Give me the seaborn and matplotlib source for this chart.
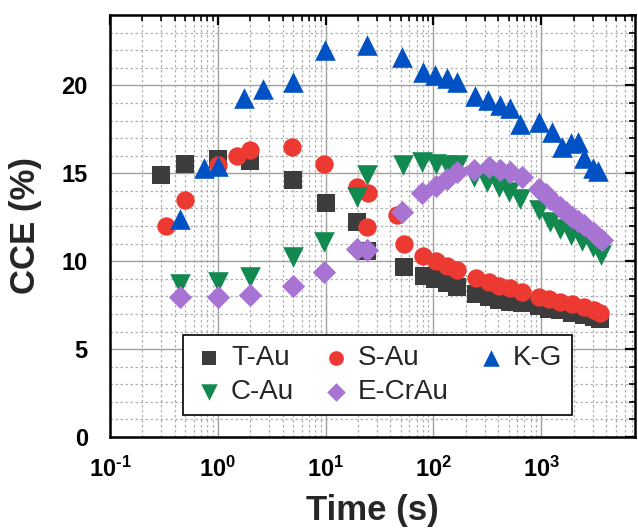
import numpy as np
import pandas as pd
import matplotlib
matplotlib.use("Agg")
import matplotlib.pyplot as plt
import matplotlib.ticker as mticker
import seaborn as sns

# Data
t_au_t = [0.3, 0.5, 1.0, 2.0, 5.0, 10, 19.5, 24, 53, 82, 104, 134, 167,
          250, 327, 410, 510, 667, 950, 1180, 1500, 1940, 2500, 3070, 3500]
t_au = [14.9, 15.55, 15.8, 15.7, 14.6, 13.3, 12.2, 10.6, 9.64, 9.15, 8.96, 8.73, 8.54,
        8.12, 7.95, 7.8, 7.68, 7.6, 7.45, 7.3, 7.2, 7.05, 6.95, 6.8, 6.7]

s_au_t = [0.33, 0.5, 1.0, 1.5, 2.0, 4.9, 9.7, 19.4, 24.5, 24, 46, 53.5, 80, 105, 134, 167,
          250, 327, 410, 510, 667, 950, 1180, 1500, 1940, 2500, 3070, 3500]
s_au = [12.0, 13.5, 15.45, 16.0, 16.3, 16.5, 15.55, 14.2, 13.9, 11.95, 12.6, 10.95, 10.3, 10.0, 9.73, 9.49,
        9.05, 8.83, 8.6, 8.45, 8.26, 7.97, 7.82, 7.69, 7.56, 7.4, 7.2, 7.06]

c_au_t = [0.45, 1.0, 2.0, 4.95, 9.7, 19.4, 24, 52, 79, 105, 134, 170,
          240, 315, 405, 503, 640, 950, 1200, 1500, 1900, 2400, 3000, 3600]
c_au = [8.7, 8.8, 9.1, 10.25, 11.1, 13.65, 14.9, 15.45, 15.65, 15.55, 15.45, 15.45,
        14.8, 14.5, 14.2, 13.95, 13.55, 12.9, 12.2, 11.85, 11.5, 11.15, 10.8, 10.35]

e_cr_t = [0.45, 1.0, 2.0, 4.95, 9.7, 19.4, 24, 51.5, 79, 105, 134, 167,
          240, 327, 417, 518, 667, 950, 1100, 1220, 1500, 1700, 1940, 2200, 2500, 3070, 3400, 3700]
e_cr = [7.94, 7.97, 8.07, 8.58, 9.4, 10.7, 10.65, 12.8, 13.9, 14.3, 14.7, 15.07,
        15.2, 15.36, 15.2, 15.07, 14.8, 14.1, 13.8, 13.55, 13.1, 12.8, 12.5, 12.3, 12.05, 11.6, 11.4, 11.2]

kg_t = [0.45, 0.75, 1.0, 1.75, 2.6, 5.0, 9.8, 24, 51.6, 80.8, 104, 135, 167,
        245, 323, 417, 518, 640, 960, 1260, 1550, 1900, 2200, 2500, 3000, 3400]
kg = [12.4, 15.3, 15.4, 19.3, 19.8, 20.2, 22.0, 22.3, 21.6, 20.75, 20.57, 20.4, 20.2,
      19.4, 19.15, 18.9, 18.7, 17.8, 17.9, 17.35, 16.5, 16.7, 16.8, 15.85, 15.3, 15.1]

df = pd.concat([
    pd.DataFrame({"time": t_au_t, "cce": t_au, "sample": "T-Au"}),
    pd.DataFrame({"time": s_au_t, "cce": s_au, "sample": "S-Au"}),
    pd.DataFrame({"time": c_au_t, "cce": c_au, "sample": "C-Au"}),
    pd.DataFrame({"time": e_cr_t, "cce": e_cr, "sample": "E-CrAu"}),
    pd.DataFrame({"time": kg_t, "cce": kg, "sample": "K-G"}),
])

colors = {"T-Au": "#3c3c3c", "S-Au": "#ec3a32", "K-G": "#0052c4",
          "C-Au": "#12894f", "E-CrAu": "#a874d4"}
markers = {"T-Au": "s", "S-Au": "o", "K-G": "^", "C-Au": "v", "E-CrAu": "D"}
sizes = {"T-Au": 160, "S-Au": 175, "K-G": 220, "C-Au": 220, "E-CrAu": 140}

sns.set_style("white")
plt.rcParams["font.family"] = ["Liberation Sans", "DejaVu Sans"]
plt.rcParams["mathtext.fontset"] = "custom"
plt.rcParams["mathtext.rm"] = "Liberation Sans:bold"
plt.rcParams["mathtext.bf"] = "Liberation Sans:bold"
plt.rcParams["axes.unicode_minus"] = False

fig, ax = plt.subplots(figsize=(6.38, 5.31), dpi=100)
fig.subplots_adjust(left=110/638, right=0.996, bottom=1-437/531, top=1-15/531)

for name in ["T-Au", "S-Au", "K-G", "C-Au", "E-CrAu"]:
    sub = df[df["sample"] == name]
    sns.scatterplot(ax=ax, data=sub, x="time", y="cce", marker=markers[name],
                    color=colors[name], s=sizes[name], linewidth=0, label=name,
                    zorder=3)

ax.set_xscale("log")
ax.set_xlim(0.1, 7500)
ax.set_ylim(0, 24)
ax.yaxis.set_major_locator(mticker.MultipleLocator(5))
ax.yaxis.set_minor_locator(mticker.MultipleLocator(1))
ax.xaxis.set_major_locator(mticker.LogLocator(base=10, numticks=10))
ax.xaxis.set_minor_locator(mticker.LogLocator(base=10, subs=np.arange(2, 10), numticks=20))
ax.xaxis.set_minor_formatter(mticker.NullFormatter())
ax.xaxis.set_major_formatter(mticker.FuncFormatter(
    lambda v, p: r"$\mathbf{10^{\text{-}1}}$" if round(np.log10(v)) == -1
    else r"$\mathbf{10^{%d}}$" % round(np.log10(v))))

ax.grid(True, which="major", color="#a0a0a0", linewidth=1.0, linestyle="-", zorder=0)
ax.grid(True, which="minor", color="#b0b0b0", linewidth=0.9, linestyle=(0, (2, 2)), zorder=0)
ax.set_axisbelow(True)

for sp in ax.spines.values():
    sp.set_linewidth(1.8)
    sp.set_color("black")

ax.tick_params(which="both", direction="in", top=True, right=True, colors="black")
ax.tick_params(which="major", length=7, width=1.6, labelsize=17)
ax.tick_params(axis="x", which="major", pad=14)
ax.tick_params(axis="y", which="major", pad=16)
ax.tick_params(which="minor", length=4, width=1.2)
for lab in ax.get_yticklabels():
    lab.set_fontweight("bold")

ax.set_xlabel("Time (s)", fontsize=25, fontweight="bold", labelpad=9)
ax.set_ylabel("CCE (%)", fontsize=25, fontweight="bold", labelpad=14)

h, l = ax.get_legend_handles_labels()
order = ["T-Au", "C-Au", "S-Au", "E-CrAu", "K-G"]
hd = dict(zip(l, h))
leg = ax.legend([hd[k] for k in order], order, ncol=3, loc="lower left",
                bbox_to_anchor=(0.138, 0.052), borderaxespad=0, fontsize=20,
                frameon=True, fancybox=False, edgecolor="black", framealpha=1,
                handletextpad=0.2, columnspacing=0.9, handlelength=1.2,
                labelspacing=0.3, borderpad=0.35, markerscale=0.8)
leg.get_frame().set_linewidth(1.2)

fig.savefig("out.png", dpi=100)
